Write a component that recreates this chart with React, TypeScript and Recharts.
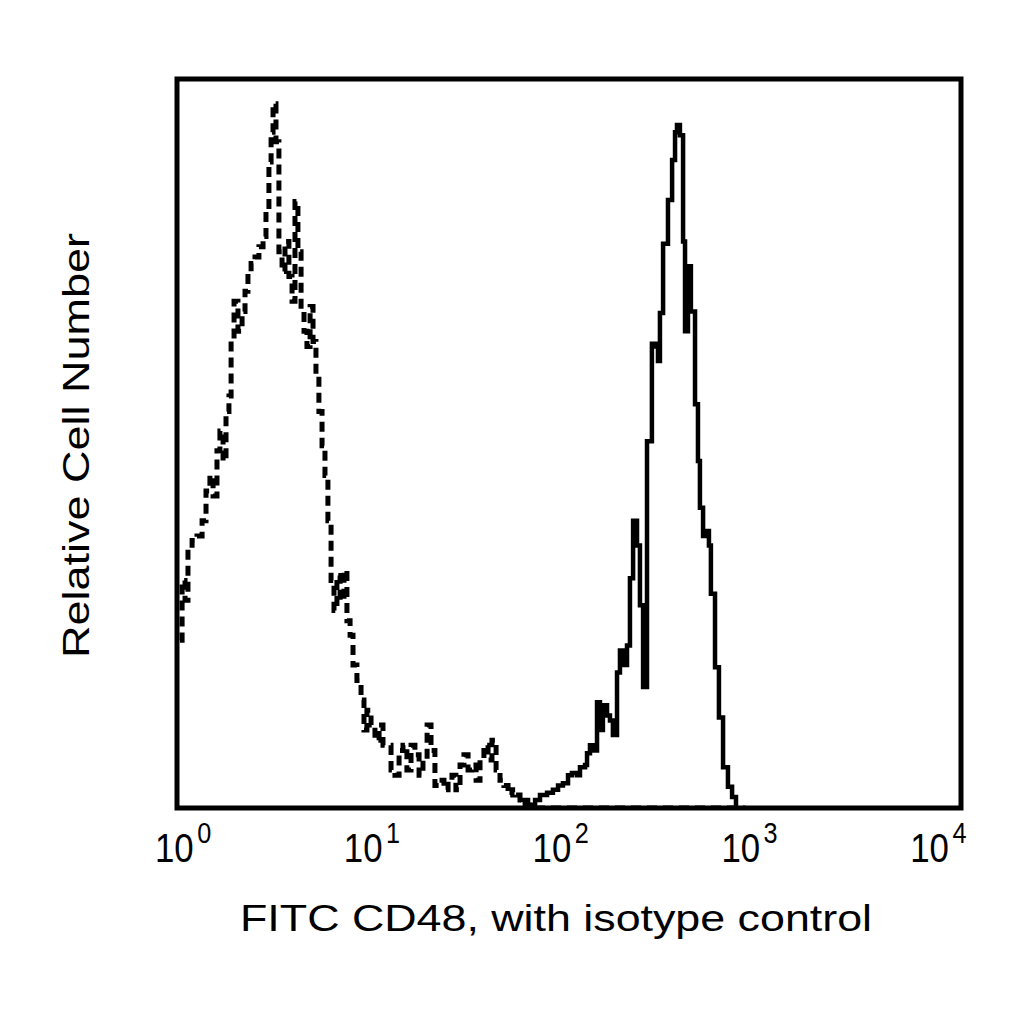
import React from "react";
import { LineChart, Line, XAxis, YAxis, ReferenceArea, Customized } from "recharts";

// x values are log10 of FITC fluorescence; y values are relative cell number (% of full scale)
const isotypeLog = [0.015,0.026,0.041,0.056,0.077,0.102,0.128,0.148,0.168,0.184,0.204,0.219,0.235,0.25,0.265,0.276,0.291,0.311,0.332,0.347,0.362,0.378,0.398,0.418,0.439,0.454,0.469,0.48,0.49,0.505,0.52,0.536,0.551,0.571,0.587,0.602,0.617,0.633,0.648,0.663,0.679,0.694,0.709,0.724,0.74,0.755,0.77,0.786,0.801,0.816,0.832,0.852,0.867,0.883,0.898,0.918,0.939,0.954,0.969,0.99,1.01,1.031,1.051,1.071,1.092,1.112,1.133,1.153,1.173,1.194,1.214,1.235,1.255,1.276,1.296,1.316,1.337,1.362,1.383,1.403,1.423,1.444,1.464,1.485,1.505,1.526,1.546,1.566,1.587,1.607,1.628,1.648,1.668,1.689,1.709,1.73,1.75,1.776,1.801,2.9];
const isotypeCount = [23.0,31.2,28.5,35.6,36.7,37.3,39.4,43.5,45.6,42.8,49.0,51.7,47.6,54.4,56.5,64.0,69.5,65.4,68.1,70.9,73.6,74.7,75.6,77.0,78.4,81.8,88.6,92.7,96.6,91.4,76.3,73.6,77.7,72.9,69.5,83.2,76.3,68.1,65.4,63.3,68.8,64.0,59.2,54.4,49.7,45.6,39.4,31.2,27.1,31.9,28.5,32.6,25.7,23.7,19.6,17.5,14.8,10.7,13.4,11.4,9.3,11.4,8.6,8.6,5.2,4.5,7.9,8.6,5.2,8.6,7.3,4.5,6.6,11.4,7.9,3.1,3.8,2.5,3.6,4.5,2.5,5.9,7.3,5.2,5.9,3.8,6.6,8.6,6.6,9.3,5.2,3.8,3.1,1.8,2.5,1.8,1.1,0.4,0,0];

const cd48Log = [1.75,1.791,1.827,1.852,1.888,1.918,1.944,1.969,1.995,2.015,2.041,2.056,2.082,2.092,2.107,2.128,2.143,2.158,2.173,2.194,2.209,2.224,2.245,2.26,2.276,2.296,2.311,2.327,2.347,2.362,2.378,2.398,2.423,2.444,2.454,2.464,2.48,2.505,2.526,2.541,2.551,2.566,2.582,2.592,2.607,2.622,2.643,2.658,2.668,2.684,2.699,2.714,2.724,2.745,2.765,2.786,2.811,2.832,2.852];
const cd48Count = [1.1,0.4,1.1,1.8,2.1,2.5,3.1,3.4,4.5,4.8,4.5,5.6,5.9,7.5,8.6,7.9,14.5,10.7,14.1,12.7,12.0,10.0,18.6,21.6,19.6,22.3,31.5,39.4,36.0,27.8,16.6,50.3,63.7,63.3,61.3,67.9,77.4,83.4,88.9,92.7,93.7,92.3,77.7,65.4,74.3,68.1,55.4,47.6,41.2,37.3,38.0,36.0,29.4,19.3,12.4,5.6,2.9,1.5,0];

const decadeTicks = [0, 1, 2, 3, 4];
const xTitle = "FITC CD48, with isotype control";
const yTitle = "Relative Cell Number";

const isotypeData = isotypeLog.map((x, i) => ({ x, y: isotypeCount[i] }));
const cd48Data = cd48Log.map((x, i) => ({ x, y: cd48Count[i] }));

const FONT = '"Liberation Sans", Arial, Helvetica, sans-serif';

const LogTick = (props: any) => {
  const { x, payload, index } = props;
  const left = x - 22 - 7.2 * index;
  return (
    <text
      x={0}
      y={0}
      fontSize={40}
      fontFamily={FONT}
      fill="#000"
      transform={`translate(${left},862) scale(0.87,1)`}
    >
      <tspan>10</tspan>
      <tspan dx={4} dy={-19} fontSize={29}>
        {payload.value}
      </tspan>
    </text>
  );
};

const Titles = () => (
  <g>
    <text x={240} y={931} fontSize={36} fontFamily={FONT} fill="#000" textLength={632} lengthAdjust="spacingAndGlyphs">
      {xTitle}
    </text>
    <text
      x={0}
      y={0}
      fontSize={37}
      fontFamily={FONT}
      fill="#000"
      textLength={425}
      lengthAdjust="spacingAndGlyphs"
      transform="translate(89,658) rotate(-90)"
    >
      {yTitle}
    </text>
  </g>
);

export default function App() {
  return (
    <div style={{ position: "absolute", left: 0, top: 0, width: 1024, height: 1024, background: "#fff" }}>
      <LineChart width={1024} height={1024} margin={{ top: 79, right: 63, bottom: 156, left: 177 }}>
        <XAxis
          type="number"
          dataKey="x"
          domain={[0, 4]}
          ticks={decadeTicks}
          allowDataOverflow
          axisLine={false}
          tickLine={false}
          height={60}
          tick={<LogTick />}
        />
        <YAxis type="number" dataKey="y" domain={[0, 100]} hide allowDataOverflow />
        <Line
          data={isotypeData}
          dataKey="y"
          type="stepAfter"
          stroke="#000"
          strokeWidth={5}
          strokeDasharray="10 6"
          dot={false}
          isAnimationActive={false}
        />
        <Line
          data={cd48Data}
          dataKey="y"
          type="stepAfter"
          stroke="#000"
          strokeWidth={4.5}
          dot={false}
          isAnimationActive={false}
        />
        <ReferenceArea x1={0} x2={4} y1={0} y2={100} fill="none" stroke="#000" strokeWidth={5} ifOverflow="visible" />
        <Customized component={<Titles />} />
      </LineChart>
    </div>
  );
}
